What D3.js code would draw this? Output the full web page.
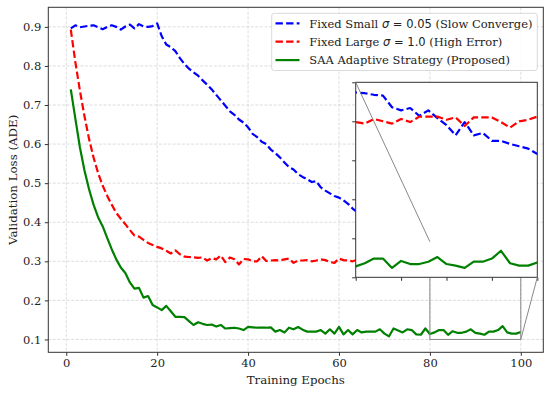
<!DOCTYPE html>
<html>
<head>
<meta charset="utf-8">
<style>
  body { margin: 0; background: #fff; }
  svg text { font-family: "DejaVu Serif", serif; fill: #222; }
  .tick line { stroke: #333; }
</style>
<script src="https://d3js.org/d3.v7.min.js"></script>
</head>
<body>
<script>
// epochs 1..100
const epochs = d3.range(1, 101);

const fixedSmall = [
  0.896, 0.904, 0.899, 0.901, 0.903, 0.904, 0.899, 0.894, 0.900, 0.904,
  0.900, 0.893, 0.901, 0.906, 0.896, 0.907, 0.901, 0.900, 0.902, 0.909,
  0.876, 0.855, 0.848, 0.838, 0.820, 0.805, 0.793, 0.784, 0.775, 0.763,
  0.752, 0.740, 0.726, 0.712, 0.698, 0.684, 0.675, 0.663, 0.655, 0.643,
  0.626, 0.618, 0.606, 0.600, 0.586, 0.577, 0.566, 0.553, 0.541, 0.535,
  0.523, 0.516, 0.510, 0.503, 0.505, 0.489, 0.481, 0.474, 0.467, 0.463,
  0.456, 0.447, 0.435, 0.426, 0.420, 0.411, 0.404, 0.397, 0.390, 0.383,
  0.378, 0.371, 0.366, 0.360, 0.355, 0.351, 0.347, 0.343, 0.340, 0.337,
  0.336, 0.334, 0.333, 0.318, 0.314, 0.317, 0.307, 0.314, 0.304, 0.295,
  0.282, 0.299, 0.282, 0.285, 0.275, 0.275, 0.271, 0.268, 0.265, 0.258
];

const fixedLarge = [
  0.893, 0.810, 0.737, 0.672, 0.614, 0.566, 0.526, 0.494, 0.468, 0.445,
  0.424, 0.409, 0.395, 0.380, 0.366, 0.363, 0.355, 0.347, 0.342, 0.337,
  0.333, 0.327, 0.320, 0.328, 0.318, 0.312, 0.311, 0.310, 0.309, 0.310,
  0.302, 0.308, 0.305, 0.315, 0.298, 0.310, 0.305, 0.292, 0.306, 0.305,
  0.300, 0.300, 0.313, 0.301, 0.302, 0.303, 0.302, 0.305, 0.307, 0.296,
  0.302, 0.302, 0.303, 0.300, 0.302, 0.305, 0.303, 0.298, 0.296, 0.307,
  0.303, 0.302, 0.300, 0.304, 0.298, 0.301, 0.306, 0.299, 0.302, 0.297,
  0.303, 0.300, 0.305, 0.298, 0.302, 0.304, 0.299, 0.301, 0.303, 0.299,
  0.297, 0.303, 0.300, 0.297, 0.303, 0.299, 0.306, 0.306, 0.306, 0.302,
  0.305, 0.294, 0.305, 0.305, 0.305, 0.299, 0.292, 0.300, 0.302, 0.306
];

const saaAdaptive = [
  0.740, 0.665, 0.592, 0.533, 0.485, 0.445, 0.413, 0.390, 0.360, 0.331,
  0.305, 0.284, 0.270, 0.246, 0.230, 0.232, 0.207, 0.211, 0.188, 0.182,
  0.175, 0.186, 0.172, 0.158, 0.158, 0.157, 0.147, 0.137, 0.144, 0.140,
  0.137, 0.138, 0.133, 0.137, 0.128, 0.129, 0.130, 0.128, 0.124, 0.132,
  0.131, 0.130, 0.130, 0.130, 0.131, 0.120, 0.124, 0.118, 0.130, 0.126,
  0.132, 0.125, 0.120, 0.120, 0.120, 0.124, 0.115, 0.126, 0.115, 0.132,
  0.113, 0.124, 0.113, 0.124, 0.118, 0.120, 0.120, 0.120, 0.126, 0.115,
  0.108, 0.128, 0.123, 0.118, 0.126, 0.124, 0.113, 0.112, 0.128, 0.114,
  0.118, 0.124, 0.124, 0.112, 0.121, 0.117, 0.117, 0.120, 0.126, 0.117,
  0.115, 0.112, 0.120, 0.120, 0.124, 0.134, 0.118, 0.115, 0.115, 0.119
];

const seriesNames = [
  ["Fixed Small ", "σ", " = 0.05", " (Slow Converge)"],
  ["Fixed Large ", "σ", " = 1.0", " (High Error)"],
  ["SAA Adaptive Strategy (Proposed)"]
];
const seriesColors = ["#0000ff", "#ff0000", "#008000"];
const seriesDash = ["7.4,3.2", "7.4,3.2", null];
const seriesData = [fixedSmall, fixedLarge, saaAdaptive];

const xTicks = [0, 20, 40, 60, 80, 100];
const yTicks = [0.1, 0.2, 0.3, 0.4, 0.5, 0.6, 0.7, 0.8, 0.9];
const zoomX = [80, 100];
const zoomY = [0.1, 0.35];
const insetXTicks = [80, 85, 90, 95, 100];
const insetYTicks = [0.1, 0.15, 0.2, 0.25, 0.3, 0.35];

const W = 550, H = 394;
const m = { left: 48.3, right: 543.3, top: 7.3, bottom: 352.3 };

const svg = d3.select("body").append("svg")
  .attr("width", W).attr("height", H);

const x = d3.scaleLinear().domain([-3.95, 104.95]).range([m.left, m.right]);
const y = d3.scaleLinear().domain([0.0671, 0.9501]).range([m.bottom, m.top]);

// clip
const defs = svg.append("defs");
defs.append("clipPath").attr("id", "main-clip").append("rect")
  .attr("x", m.left).attr("y", m.top)
  .attr("width", m.right - m.left).attr("height", m.bottom - m.top);

// grid
const grid = svg.append("g").attr("stroke", "#d4d4d4").attr("stroke-width", 0.8)
  .attr("stroke-dasharray", "3,1.6");
xTicks.forEach(t => grid.append("line")
  .attr("x1", x(t)).attr("x2", x(t)).attr("y1", m.top).attr("y2", m.bottom));
yTicks.forEach(t => grid.append("line")
  .attr("x1", m.left).attr("x2", m.right).attr("y1", y(t)).attr("y2", y(t)));

// lines
const line = d3.line().x((d, i) => x(epochs[i])).y(d => y(d));
const plot = svg.append("g").attr("clip-path", "url(#main-clip)");
seriesData.forEach((s, k) => {
  plot.append("path").datum(s)
    .attr("d", line)
    .attr("fill", "none")
    .attr("stroke", seriesColors[k])
    .attr("stroke-width", 2.2)
    .attr("stroke-dasharray", seriesDash[k])
    .attr("stroke-linejoin", "round");
});

// zoom rectangle
svg.append("rect")
  .attr("x", x(zoomX[0])).attr("y", y(zoomY[1]))
  .attr("width", x(zoomX[1]) - x(zoomX[0]))
  .attr("height", y(zoomY[0]) - y(zoomY[1]))
  .attr("fill", "none").attr("stroke", "#888").attr("stroke-width", 1);

// frame
svg.append("rect")
  .attr("x", m.left).attr("y", m.top)
  .attr("width", m.right - m.left).attr("height", m.bottom - m.top)
  .attr("fill", "none").attr("stroke", "#333").attr("stroke-width", 1);

// axes
const xAxis = svg.append("g")
  .attr("transform", `translate(0,${m.bottom})`)
  .call(d3.axisBottom(x).tickValues(xTicks).tickSize(3.5).tickPadding(3.5));
const yAxis = svg.append("g")
  .attr("transform", `translate(${m.left},0)`)
  .call(d3.axisLeft(y).tickValues(yTicks).tickFormat(d3.format(".1f")).tickSize(3.5).tickPadding(3.5));
[xAxis, yAxis].forEach(a => {
  a.select(".domain").remove();
  a.selectAll("text").style("font-family", "DejaVu Serif").style("font-size", "11.5px").attr("fill", "#222");
});

svg.append("text")
  .attr("x", (m.left + m.right) / 2).attr("y", 384)
  .attr("text-anchor", "middle").style("font-size", "11.8px")
  .text("Training Epochs");
svg.append("text")
  .attr("transform", `translate(17,${(m.top + m.bottom) / 2}) rotate(-90)`)
  .attr("text-anchor", "middle").style("font-size", "11.8px")
  .text("Validation Loss (ADE)");

// legend
const lg = svg.append("g");
lg.append("rect")
  .attr("x", 271.7).attr("y", 13.3).attr("width", 265.6).attr("height", 57.2)
  .attr("rx", 2.5).attr("fill", "#fff").attr("fill-opacity", 0.85)
  .attr("stroke", "#d0d0d0").attr("stroke-width", 0.8);
seriesNames.forEach((parts, k) => {
  const ly = 23.3 + k * 18.4;
  lg.append("line")
    .attr("x1", 275.5).attr("x2", 299.5).attr("y1", ly).attr("y2", ly)
    .attr("stroke", seriesColors[k]).attr("stroke-width", 2.2)
    .attr("stroke-dasharray", seriesDash[k]);
  const t = lg.append("text").attr("x", 309.3).attr("y", ly + 4.2).style("font-size", "11.5px");
  parts.forEach((p, j) => {
    const ts = t.append("tspan").text(p);
    if (parts.length > 1 && j === 1) ts.style("font-family", "DejaVu Sans").style("font-style", "italic");
    if (parts.length > 1 && j === 2) ts.style("font-family", "DejaVu Sans");
  });
});

// inset
const ins = { left: 355.7, right: 537.3, top: 82.3, bottom: 277.3 };
const xi = d3.scaleLinear().domain(zoomX).range([ins.left, ins.right]);
const yi = d3.scaleLinear().domain(zoomY).range([ins.bottom, ins.top]);
defs.append("clipPath").attr("id", "inset-clip").append("rect")
  .attr("x", ins.left).attr("y", ins.top)
  .attr("width", ins.right - ins.left).attr("height", ins.bottom - ins.top);

svg.append("rect")
  .attr("x", ins.left).attr("y", ins.top)
  .attr("width", ins.right - ins.left).attr("height", ins.bottom - ins.top)
  .attr("fill", "#fff");
const lineI = d3.line().x((d, i) => xi(epochs[i])).y(d => yi(d));
const iplot = svg.append("g").attr("clip-path", "url(#inset-clip)");
seriesData.forEach((s, k) => {
  iplot.append("path").datum(s)
    .attr("d", lineI)
    .attr("fill", "none")
    .attr("stroke", seriesColors[k])
    .attr("stroke-width", 2.2)
    .attr("stroke-dasharray", seriesDash[k])
    .attr("stroke-linejoin", "round");
});
svg.append("rect")
  .attr("x", ins.left).attr("y", ins.top)
  .attr("width", ins.right - ins.left).attr("height", ins.bottom - ins.top)
  .attr("fill", "none").attr("stroke", "#333").attr("stroke-width", 1);
const ixa = svg.append("g").attr("transform", `translate(0,${ins.bottom})`)
  .call(d3.axisBottom(xi).tickValues(insetXTicks).tickSize(3.5).tickFormat(""));
const iya = svg.append("g").attr("transform", `translate(${ins.left},0)`)
  .call(d3.axisLeft(yi).tickValues(insetYTicks).tickSize(3.5).tickFormat(""));
[ixa, iya].forEach(a => a.select(".domain").remove());

// connectors
const conn = svg.append("g").attr("stroke", "#888").attr("stroke-width", 1);
conn.append("line")
  .attr("x1", ins.left).attr("y1", ins.top)
  .attr("x2", x(zoomX[0])).attr("y2", y(zoomY[1]));
conn.append("line")
  .attr("x1", ins.right).attr("y1", ins.bottom)
  .attr("x2", x(zoomX[1])).attr("y2", y(zoomY[0]));
</script>
</body>
</html>
